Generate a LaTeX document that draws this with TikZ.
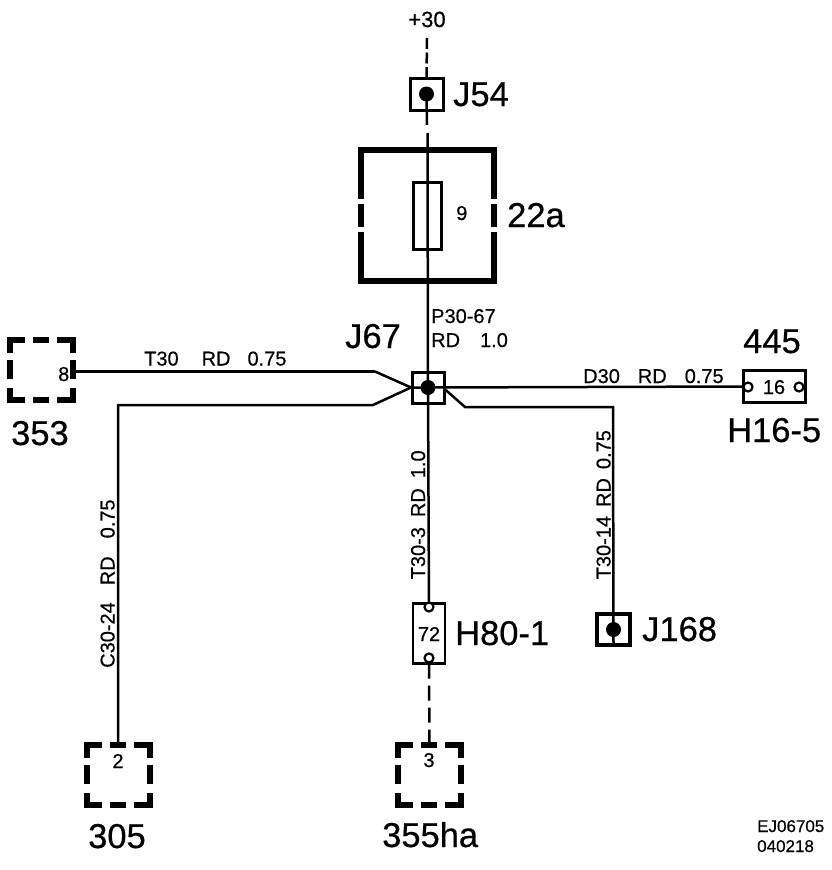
\documentclass[tikz,border=0pt]{standalone}
\usepackage{fontspec}
\setmainfont[FakeBold=0.5]{Liberation Sans}
\newcommand\smalltxt{\fontsize{20}{20}\selectfont}
\newcommand\bigtxt{\fontsize{34.5}{35}\selectfont}
\newcommand\tinytxt{\fontsize{17}{17}\selectfont}
\newcommand\mydashbox[3]{%
  \node[dashcore] (#1) at (#2,#3) {};
  \draw[hdashes] (#1.north west) -- (#1.north east);
  \draw[hdashes] (#1.south west) -- (#1.south east);
  \draw[vdashes] (#1.north west) -- (#1.south west);
  \draw[vdashes] (#1.north east) -- (#1.south east);
}
\tikzset{
  wire/.style={line width=2.5pt},
  heavywire/.style={line width=3.2pt},
  dashwire/.style={line width=2.5pt},
  dashcore/.style={rectangle,inner sep=0pt,outer sep=0pt,minimum width=63pt,minimum height=60pt},
  hdashes/.style={line width=6pt,line cap=rect,dash pattern=on 12pt off 14pt on 10pt off 14pt on 13pt},
  vdashes/.style={line width=6pt,line cap=rect,dash pattern=on 10pt off 13pt on 13pt off 15pt on 9pt},
  splice/.style={rectangle,draw,line width=3pt,inner sep=0pt,outer sep=0pt,minimum width=32pt,minimum height=31pt},
  dotn/.style={circle,fill=black,inner sep=0pt,minimum size=15pt},
  conn/.style={rectangle,draw,line width=2.2pt,fill=white,inner sep=0pt,outer sep=0pt},
  pin/.style={circle,draw,line width=2.2pt,fill=white,inner sep=0pt,minimum size=9pt},
  small/.style={inner sep=0pt,font=\smalltxt},
  big/.style={inner sep=0pt,anchor=base west,font=\bigtxt},
  tiny/.style={inner sep=0pt,anchor=base west,font=\tinytxt},
  gapline/.style={white,line width=8pt},
}
\begin{document}
\begin{tikzpicture}[x=1pt,y=-1pt]
\useasboundingbox[fill=white] (0,0) rectangle (832,870);

% fuse housing
\node[rectangle,draw,line width=6pt,inner sep=0pt,outer sep=0pt,minimum width=133pt,minimum height=131pt] (hous) at (427.5,215.5) {};
\foreach \a in {west,east}{
  \draw[gapline] ([yshift=11.5pt]hous.\a) -- ([yshift=16.5pt]hous.\a);
  \draw[gapline] ([yshift=-11.5pt]hous.\a) -- ([yshift=-16.5pt]hous.\a);
}
\node[conn,minimum width=28pt,minimum height=67pt] (fuse) at (427.5,216) {};

% named nodes
\coordinate (top) at (427,38);
\coordinate (wa) at (427,125);
\coordinate (wb) at (427.5,133);
\node[rectangle,draw,line width=3pt,inner sep=0pt,outer sep=0pt,minimum width=33pt,minimum height=32pt] (j54) at (426.5,94) {};
\node[splice] (j67) at (428,387.5) {};
\node[rectangle,draw,line width=4pt,inner sep=0pt,outer sep=0pt,minimum width=33pt,minimum height=31pt] (j168) at (613.5,629.5) {};
\node[conn,minimum width=32pt,minimum height=60pt] (h80) at (429,633.5) {};
\node[conn,minimum width=62pt,minimum height=32pt] (h16) at (774.5,386.5) {};
\mydashbox{b353}{41.5}{370}
\mydashbox{b305}{118}{775}
\mydashbox{b355}{429.5}{774.5}

% connectors
\coordinate (s353) at (76,371.5);
\coordinate (k1) at (375,371.5);
\coordinate (k2) at (373,405);
\coordinate (k3) at (118,405);
\coordinate (k4) at (465,407);
\coordinate (k5) at (613,407);
\coordinate (pt) at (429,607);
\coordinate (pb) at (429,658);
\coordinate (j67w) at (411,387.5);
\draw[dashwire,dash pattern=on 11pt off 3.5pt] (top) -- (j54.north);
\draw[wire] (j54.center) -- (wa);
\draw[wire] (wb) -- (j67.center);
\draw[wire] (j67.center) -- (pt);
\draw[heavywire] (s353) -- (k1);
\draw[wire] (k1) -- (j67w);
\draw[wire] (j67w) -- (k2) -- (k3) -- (b305.north -| k3);
\draw[wire] (j67w) -- (j67.center) -- (h16.west);
\draw[wire] (j67.east) ++(0,1) -- (k4) -- (k5) -- (j168.south);
\draw[dashwire,dash pattern=on 15pt off 7pt] (h80.south) -- (b355.north);

% dots and pins
\node[dotn] (d54) at (j54.center) {};
\node[dotn] (d67) at (j67.center) {};
\node[dotn] (d168) at (j168.center) {};
\node[pin] (p1) at (pt) {};
\node[pin] (p2) at (pb) {};
\node[pin] (p3) at (748,387) {};
\node[pin] (p4) at (799,387) {};

% big labels
\node[big] (t1) at (453,106) {J54};
\node[big] (t2) at (507,227) {22a};
\node[big] (t3) at (345,348) {J67};
\node[big] (t4) at (743,353) {445};
\node[big] (t5) at (727,442) {H16-5};
\node[big] (t6) at (11,445) {353};
\node[big] (t7) at (455,645) {H80-1};
\node[big] (t8) at (642,641) {J168};
\node[big] (t9) at (88,848) {305};
\node[big] (t10) at (382,847) {355ha};

% small labels
\node[small,anchor=base,font=\fontsize{22}{22}\selectfont] (s1) at (427,27) {+30};
\node[small,anchor=base west] (s2) at (456,220) {9};
\node[small,anchor=base west] (s3) at (431,323) {P30-67};
\node[small,anchor=base west] (s4) at (431,347) {RD\hspace{20pt}1.0};
\node[small,anchor=base west] (s5) at (144,365.5) {T30\hspace{23pt}RD\hspace{17pt}0.75};
\node[small,anchor=base west] (s6) at (583,383) {D30\hspace{18pt}RD\hspace{18pt}0.75};
\node[small,anchor=base west] (s7) at (58,381) {8};
\node[small,anchor=base] (s8) at (118,768) {2};
\node[small,anchor=base] (s9) at (429,767) {3};
\node[small,anchor=base] (s10) at (429,641) {72};
\node[small,anchor=base] (s11) at (774,394) {16};
\node[small,anchor=base west,rotate=90] (s12) at (425,579.5) {T30-3\hspace{10pt}RD\hspace{10pt}1.0};
\node[small,anchor=base west,rotate=90] (s13) at (610.5,579.5) {T30-14\hspace{9pt}RD\hspace{9pt}0.75};
\node[small,anchor=base west,rotate=90] (s14) at (114.5,668) {C30-24\hspace{17pt}RD\hspace{18pt}0.75};
\node[tiny] (s15) at (757,832) {EJ06705};
\node[tiny] (s16) at (757,852) {040218};
\end{tikzpicture}
\end{document}
